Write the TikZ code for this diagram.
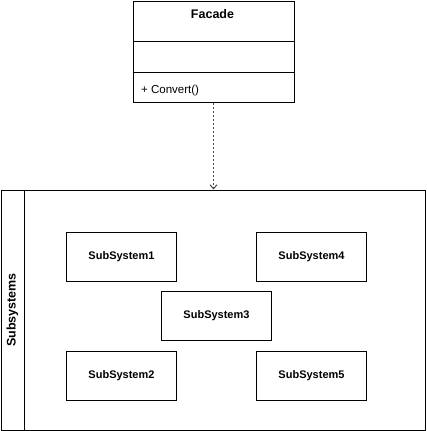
\documentclass[tikz,border=0pt]{standalone}
\usepackage{fontspec}
\setmainfont{Liberation Sans}
\usetikzlibrary{arrows.meta}
\begin{document}
\begin{tikzpicture}[x=1pt,y=-1pt,
  box/.style={draw=black,line width=1pt,fill=white,inner sep=0pt},
  sub/.style={box,minimum width=110pt,minimum height=49pt,font=\bfseries\fontsize{11}{13}\selectfont},
  lbl/.style={font=\fontsize{11.5}{13}\selectfont,inner sep=0pt}]
\useasboundingbox (0,0) rectangle (426,431);
% Facade class
\node[box,minimum width=161pt,minimum height=101pt,anchor=north west] (facade) at (132.5,0.5) {};
\node[font=\bfseries\fontsize{12.5}{14}\selectfont,inner sep=0pt,anchor=base] (ftitle) at (212.5,18.5) {Facade};
\draw[line width=1pt] (132.5,41) coordinate (d1a) -- (293.5,41) coordinate (d1b);
\draw[line width=1pt] (132.5,72) coordinate (d2a) -- (293.5,72) coordinate (d2b);
\node[lbl,anchor=base west] (op) at (141,93) {+ Convert()};
% container
\node[box,minimum width=424pt,minimum height=240pt,anchor=north west] (cont) at (0.5,189.5) {};
\draw[line width=1pt] (24,189.5) coordinate (v1) -- (24,429.5) coordinate (v2);
\node[font=\bfseries\fontsize{12.5}{14}\selectfont,rotate=90] (ctitle) at (12.5,310) {Subsystems};
% subsystems
\node[sub,anchor=north west] (s1) at (66,231.5) {SubSystem1};
\node[sub,anchor=north west] (s4) at (256,231.5) {SubSystem4};
\node[sub,anchor=north west] (s3) at (161,290.5) {SubSystem3};
\node[sub,anchor=north west] (s2) at (66,350.5) {SubSystem2};
\node[sub,anchor=north west] (s5) at (256,350.5) {SubSystem5};
% dependency
\draw[line width=1pt,dash pattern=on 2pt off 2pt,draw=black!70,-{Straight Barb[length=4pt,width=7pt]}] (facade.south) -- (facade.south |- cont.north);
\end{tikzpicture}
\end{document}
